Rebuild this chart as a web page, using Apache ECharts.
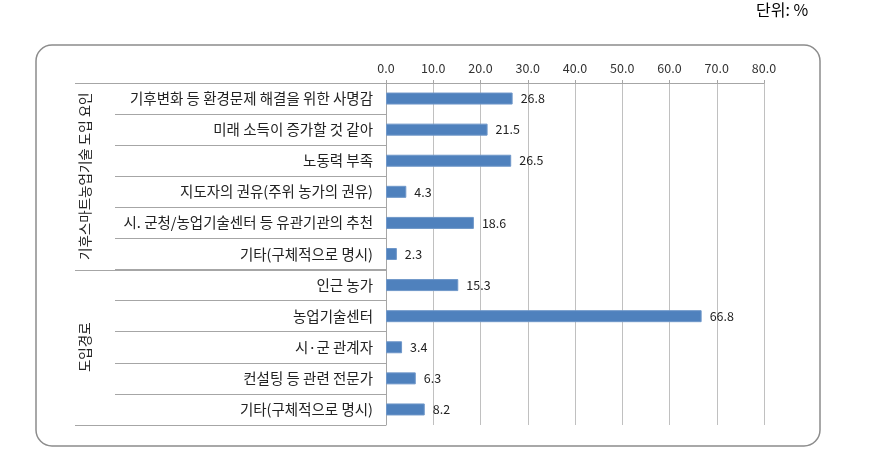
<!DOCTYPE html>
<html>
<head>
<meta charset="utf-8">
<script src="https://cdn.jsdelivr.net/npm/echarts@6/dist/echarts.min.js"></script>
<style>html,body{margin:0;padding:0;background:#fff}#c{width:878px;height:473px}</style>
</head>
<body>
<div id="c"></div>
<script>
const categories = [
  '기후변화 등 환경문제 해결을 위한 사명감',
  '미래 소득이 증가할 것 같아',
  '노동력 부족',
  '지도자의 권유(주위 농가의 권유)',
  '시. 군청/농업기술센터 등 유관기관의 추천',
  '기타(구체적으로 명시)',
  '인근 농가',
  '농업기술센터',
  '시·군 관계자',
  '컨설팅 등 관련 전문가',
  '기타(구체적으로 명시)'
];
const values = [26.8, 21.5, 26.5, 4.3, 18.6, 2.3, 15.3, 66.8, 3.4, 6.3, 8.2];
const groups = ['기후스마트농업기술 도입 요인', '도입경로'];
const groupSizes = [6, 5];
const unitText = '단위: %';

const FONT = '"Noto Sans CJK KR", "Noto Sans", sans-serif';
const chart = echarts.init(document.getElementById('c'));
const gridLeft = 386;
chart.setOption({
  animation: false,
  grid: { left: gridLeft, top: 83, right: 114, bottom: 48 },
  xAxis: {
    type: 'value', position: 'top', min: 0, max: 80, interval: 10,
    axisLine: { show: true, lineStyle: { color: '#a6a6a6', width: 1 } },
    axisTick: { show: true, length: 3, lineStyle: { color: '#a6a6a6' } },
    axisLabel: { formatter: v => v.toFixed(1), color: '#333', fontSize: 12.5, fontFamily: FONT, margin: 8 },
    splitLine: { show: true, lineStyle: { color: '#c0c0c0', width: 1 } }
  },
  yAxis: {
    type: 'category', inverse: true, data: categories,
    axisLine: { show: true, lineStyle: { color: '#a6a6a6', width: 1 } },
    axisTick: { show: true, length: gridLeft - 115, lineStyle: { color: '#a6a6a6' } },
    axisLabel: { color: '#222', fontSize: 14.5, fontFamily: FONT, margin: 13 }
  },
  series: [{
    type: 'bar', data: values, barWidth: 12,
    itemStyle: { color: '#4f81bd', borderColor: '#6f97c9', borderWidth: 1 },
    label: { show: true, position: 'right', distance: 8, color: '#222', fontSize: 12.5, fontFamily: FONT, formatter: p => p.value.toFixed(1) }
  }]
});

const c0 = chart.convertToPixel({ yAxisIndex: 0 }, 0);
const c1 = chart.convertToPixel({ yAxisIndex: 0 }, 1);
const band = c1 - c0;
const graphics = [];
graphics.push({
  type: 'rect', shape: { x: 36, y: 45, width: 784, height: 401, r: 16 },
  style: { fill: 'none', stroke: '#8c8c8c', lineWidth: 1.5 }, silent: true
});
graphics.push({
  type: 'text', left: 756, top: 2,
  style: { text: unitText, fill: '#000', font: '16px ' + FONT }
});
let start = 0;
const ys = [c0 - band / 2];
groupSizes.forEach((n, i) => {
  const yTop = chart.convertToPixel({ yAxisIndex: 0 }, start) - band / 2;
  const yBot = chart.convertToPixel({ yAxisIndex: 0 }, start + n - 1) + band / 2;
  ys.push(yBot);
  graphics.push({
    type: 'text', x: 85, y: (yTop + yBot) / 2, rotation: Math.PI / 2,
    style: { text: groups[i], fill: '#222', font: '13.5px ' + FONT, align: 'center', verticalAlign: 'middle' }
  });
  start += n;
});
ys.forEach(y => {
  graphics.push({
    type: 'line', shape: { x1: 75, y1: Math.round(y) + 0.5, x2: gridLeft, y2: Math.round(y) + 0.5 },
    style: { stroke: '#a6a6a6', lineWidth: 1 }, silent: true
  });
});
chart.setOption({ graphic: graphics });
</script>
</body>
</html>
